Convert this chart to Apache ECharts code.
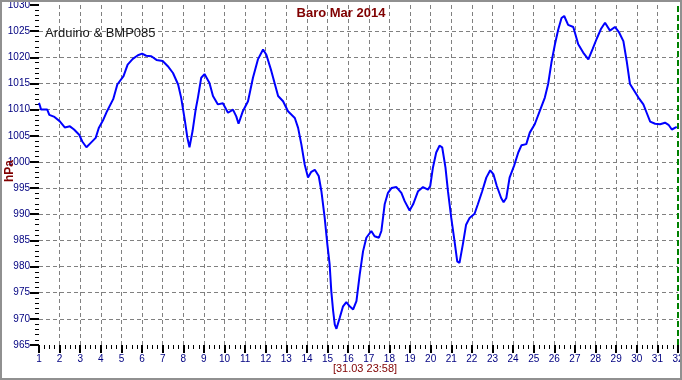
<!DOCTYPE html>
<html>
<head>
<meta charset="utf-8">
<script src="https://cdn.jsdelivr.net/npm/echarts@6/dist/echarts.min.js"></script>
<style>
html,body{margin:0;padding:0;background:#fff;}
#c{width:682px;height:380px;}
</style>
</head>
<body>
<div id="c"></div>
<script>
const titleText = 'Baro Mar 2014';
const subText = 'Arduino & BMP085';
const unitText = 'hPa';
const cursorText = '[31.03 23:58]';
const cursorDay = 32;

const days = [
  1.0, 1.05, 1.1, 1.4, 1.5, 1.75, 2.0, 2.25, 2.5, 2.7, 2.95, 3.1, 3.3, 3.5, 3.75, 3.9,
  4.1, 4.3, 4.6, 4.8, 5.1, 5.3, 5.55, 5.8, 6.0, 6.2, 6.45, 6.7, 7.0, 7.25, 7.5, 7.75,
  7.9, 8.07, 8.2, 8.3, 8.45, 8.6, 8.71, 8.87, 9.03, 9.27, 9.44, 9.68, 9.92, 10.17, 10.41,
  10.57, 10.68, 10.89, 11.14, 11.38, 11.62, 11.87, 12.03, 12.27, 12.6, 12.84, 13.08, 13.41,
  13.57, 13.73, 13.89, 14.05, 14.21, 14.38, 14.57, 14.7, 14.86, 14.99, 15.1, 15.18, 15.27,
  15.35, 15.43, 15.59, 15.75, 15.91, 16.07, 16.24, 16.4, 16.56, 16.72, 16.88,
  17.12, 17.28, 17.49, 17.61, 17.77, 17.93, 18.1, 18.34, 18.58, 18.74, 18.98, 19.15, 19.39,
  19.63, 19.87, 19.98, 20.11, 20.27, 20.43, 20.56, 20.72, 20.84, 21.0, 21.16, 21.29, 21.4,
  21.56, 21.72, 21.89, 22.13, 22.29, 22.5, 22.7, 22.89, 23.05, 23.21, 23.42, 23.54, 23.67,
  23.83, 24.05, 24.25, 24.41, 24.64, 24.81,
  25.05, 25.3, 25.54, 25.7, 25.86, 26.03, 26.19, 26.35, 26.48, 26.67, 26.92, 27.16, 27.4,
  27.65, 27.86, 28.05, 28.26, 28.46, 28.7, 28.94, 29.15, 29.35, 29.51, 29.67, 29.83, 30.08,
  30.32, 30.48, 30.65, 30.89, 31.13, 31.37, 31.54, 31.7, 31.94
];

const pressure = [
  1011.3, 1010.7, 1010.0, 1010.0, 1009.0, 1008.6, 1007.8, 1006.6, 1006.8, 1006.2, 1005.2, 1003.9, 1002.8, 1003.6, 1004.6, 1006.5,
  1007.9, 1009.7, 1012.0, 1014.8, 1016.4, 1018.6, 1019.7, 1020.4, 1020.7, 1020.3, 1020.2, 1019.5, 1019.3, 1018.3, 1017.0, 1014.8,
  1012.2, 1008.1, 1004.6, 1002.8, 1005.9, 1010.0, 1012.3, 1016.1, 1016.8, 1015.1, 1012.6, 1011.0, 1011.2, 1009.4, 1010.0,
  1008.7, 1007.3, 1009.7, 1011.6, 1016.1, 1019.6, 1021.5, 1020.5, 1017.4, 1012.6, 1011.6, 1009.7, 1008.4,
  1006.5, 1003.3, 999.5, 997.0, 998.1, 998.5, 997.3, 994.4, 989.3, 984.2, 980.4, 975.3, 971.5,
  968.9, 968.1, 970.2, 972.4, 973.2, 972.4, 971.8, 973.4, 978.5, 982.9, 985.5,
  986.8, 985.8, 985.5, 986.8, 991.9, 994.1, 995.0, 995.2, 994.1, 992.5, 990.7, 991.9, 994.4,
  995.2, 994.7, 995.4, 998.9, 1001.8, 1003.1, 1002.8, 998.9, 994.4, 989.3, 984.8, 981.0, 980.7,
  984.2, 988.0, 989.3, 990.1, 991.9, 994.4, 997.0, 998.4, 997.6, 995.4, 993.1, 992.3, 993.1,
  997.0, 999.3, 1001.8, 1003.2, 1003.4, 1005.6,
  1007.2, 1009.8, 1012.3, 1014.9, 1019.0, 1022.5, 1025.3, 1027.5, 1027.9, 1026.2, 1025.8, 1022.5, 1020.9,
  1019.6, 1021.6, 1023.5, 1025.4, 1026.6, 1025.1, 1025.8, 1024.7, 1023.1, 1019.3, 1014.9, 1013.9, 1012.3,
  1011.0, 1009.4, 1007.7, 1007.3, 1007.2, 1007.5, 1007.1, 1006.2, 1006.7
];

const xMin = 1, xMax = 32, xStep = 1;
const yMin = 965, yMax = 1030, yStep = 5;

const FONT = "'Liberation Sans', Arial, sans-serif";
const chart = echarts.init(document.getElementById('c'), null, {renderer: 'canvas'});

const splitStyle = {color: '#808080', width: 1, type: [4, 3]};
const plain = v => String(v);

chart.setOption({
  animation: false,
  backgroundColor: '#ffffff',
  grid: {left: 39, right: 4, top: 5, bottom: 35, containLabel: false, outerBoundsMode: 'none'},
  xAxis: {
    type: 'value', min: xMin, max: xMax, interval: xStep,
    axisLine: {show: false},
    axisTick: {show: true, length: 8, lineStyle: {color: '#000', width: 2}},
    minorTick: {show: true, splitNumber: 4, length: 4, lineStyle: {color: '#000', width: 1}},
    axisLabel: {color: '#000080', fontSize: 10, fontFamily: FONT, margin: 9, formatter: plain, showMinLabel: true, showMaxLabel: true},
    splitLine: {show: true, showMinLine: false, showMaxLine: false, lineStyle: splitStyle},
    minorSplitLine: {show: false}
  },
  yAxis: {
    type: 'value', min: yMin, max: yMax, interval: yStep,
    axisLine: {show: false},
    axisTick: {show: true, length: 9, lineStyle: {color: '#000', width: 2}},
    minorTick: {show: true, splitNumber: 5, length: 4, lineStyle: {color: '#000', width: 1}},
    axisLabel: {color: '#000080', fontSize: 10, fontFamily: FONT, margin: 9, formatter: plain, showMinLabel: true, showMaxLabel: true},
    splitLine: {show: true, showMinLine: false, showMaxLine: false, lineStyle: splitStyle},
    minorSplitLine: {show: false}
  },
  series: [{
    type: 'line',
    data: days.map((d, i) => [d, pressure[i]]),
    showSymbol: false,
    symbol: 'none',
    lineStyle: {color: '#0000ff', width: 2},
    z: 3,
    markLine: {
      silent: true,
      symbol: ['none', 'none'],
      label: {show: false},
      lineStyle: {color: '#008000', width: 2, type: [6, 3]},
      data: [{xAxis: cursorDay}]
    }
  }],
  graphic: [
    {type: 'rect', z: 100, silent: true, shape: {x: 1, y: 1, width: 680, height: 378},
     style: {fill: 'none', stroke: '#909090', lineWidth: 2}},
    {type: 'text', z: 100, x: 341, y: 13, style: {text: titleText, font: "bold 13px " + FONT, fill: '#800000',
      textAlign: 'center', align: 'center', textVerticalAlign: 'middle', verticalAlign: 'middle'}},
    {type: 'text', z: 100, x: 45, y: 33, style: {text: subText, font: "13px " + FONT, fill: '#1a1a1a',
      textAlign: 'left', align: 'left', textVerticalAlign: 'middle', verticalAlign: 'middle'}},
    {type: 'text', z: 100, x: 10, y: 171, rotation: Math.PI / 2, style: {text: unitText, font: "bold 12px " + FONT, fill: '#800000',
      textAlign: 'center', align: 'center', textVerticalAlign: 'middle', verticalAlign: 'middle'}},
    {type: 'text', z: 100, x: 365, y: 369, style: {text: cursorText, font: "11px " + FONT, fill: '#800000',
      textAlign: 'center', align: 'center', textVerticalAlign: 'middle', verticalAlign: 'middle'}}
  ]
});
</script>
</body>
</html>
